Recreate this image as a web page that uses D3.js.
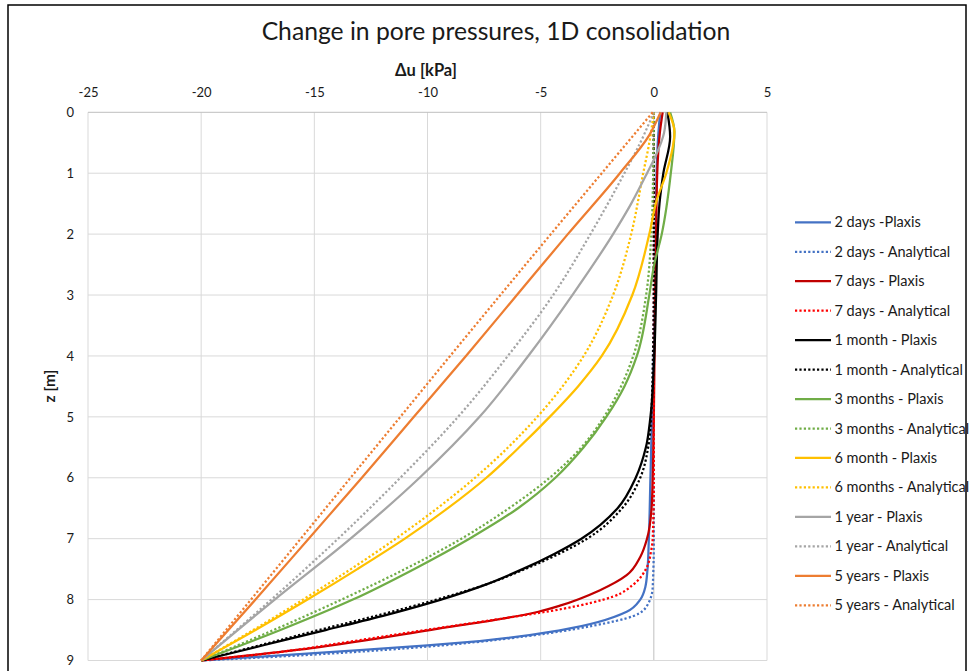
<!DOCTYPE html>
<html>
<head>
<meta charset="utf-8">
<script src="https://cdn.jsdelivr.net/npm/d3@7"></script>
<style>
  body { margin: 0; background: #fff; }
  svg { display: block; }
  text { font-family: Lato, "Open Sans", sans-serif; fill: #1a1a1a; }
</style>
</head>
<body>
<svg id="chart" width="971" height="671"></svg>
<script>
// Axis ticks
const xTicks = [-25, -20, -15, -10, -5, 0, 5];
const zTicks = [0, 1, 2, 3, 4, 5, 6, 7, 8, 9];

// Each series: [z (m), Δu (kPa)]
const days2Plaxis = [[0,0.28],[0.35,0.2],[1,0.12],[2,0.08],[3,0.06],[4,0.0],[5,-0.08],[6,-0.15],[7,-0.22],[7.5,-0.28],[7.8,-0.38],[8.0,-0.6],[8.2,-1.2],[8.5,-4.1],[8.68,-7.7],[8.75,-10.0],[8.83,-13.0],[8.88,-15.0],[9,-20]];
const days2Analytical = [[0,0],[7,0],[7.8,-0.05],[8.1,-0.3],[8.27,-0.9],[8.43,-2.7],[8.55,-4.6],[8.65,-6.7],[8.75,-9.3],[8.85,-12.8],[8.93,-16.3],[9,-20]];
const days7Plaxis = [[0,0.39],[0.32,0.27],[1,0.15],[2,0.1],[3,0.06],[4,0.03],[5,0.0],[6,-0.05],[6.5,-0.1],[7,-0.3],[7.3,-0.6],[7.6,-1.2],[7.85,-2.4],[8.1,-4.15],[8.2,-5.1],[8.5,-9.9],[8.8,-15.2],[9,-20]];
const days7Analytical = [[0,0],[6,0],[7,-0.05],[7.2,-0.12],[7.5,-0.35],[7.75,-0.9],[7.95,-1.8],[8.15,-4.0],[8.3,-6.5],[8.5,-10.1],[8.7,-13.6],[8.85,-16.3],[9,-20]];
const month1Plaxis = [[0,0.6],[0.4,0.72],[1,0.42],[1.5,0.25],[2,0.17],[3,0.1],[4,0.02],[5,-0.15],[5.5,-0.35],[6,-0.8],[6.5,-1.6],[7,-3.2],[7.25,-4.4],[7.5,-5.8],[7.75,-7.4],[8,-9.4],[8.25,-11.8],[8.5,-14.5],[8.75,-17.25],[9,-20]];
const month1Analytical = [[0,0],[3,0],[4,-0.04],[5,-0.12],[5.5,-0.25],[6,-0.6],[6.5,-1.4],[7,-2.95],[7.25,-4.2],[7.5,-5.7],[7.75,-7.4],[8,-9.6],[8.25,-12.1],[8.5,-14.8],[8.75,-17.4],[9,-20]];
const months3Plaxis = [[0,0.72],[0.32,0.91],[1,0.75],[2,0.35],[2.53,0.0],[3,-0.2],[4,-0.75],[4.5,-1.3],[5,-2.1],[5.5,-3.1],[6,-4.35],[6.5,-6.0],[7,-8.15],[7.5,-10.6],[8,-13.3],[8.5,-16.5],[9,-20]];
const months3Analytical = [[0,0],[1,-0.03],[2,-0.11],[3,-0.34],[4,-0.91],[4.5,-1.45],[5,-2.2],[5.5,-3.2],[6,-4.6],[6.5,-6.4],[7,-8.5],[7.5,-11.0],[8,-13.8],[8.5,-16.8],[9,-20]];
const months6Plaxis = [[0,0.65],[0.32,0.91],[1,0.55],[1.44,0.13],[2,-0.2],[3,-0.95],[4,-2.3],[4.5,-3.35],[5,-4.6],[5.5,-5.95],[6,-7.4],[6.5,-9.1],[7,-11.0],[7.5,-13.1],[8,-15.3],[8.5,-17.6],[9,-20]];
const months6Analytical = [[0,0],[0.5,-0.2],[1,-0.47],[2,-1.0],[3,-1.8],[4,-3.1],[5,-5.15],[6,-7.9],[7,-11.4],[8,-15.5],[8.5,-17.7],[9,-20]];
const year1Plaxis = [[0,0.55],[0.34,0.45],[0.7,0.1],[1,-0.3],[1.5,-1.0],[2,-1.8],[3,-3.6],[4,-5.55],[5,-7.7],[6,-10.35],[7,-13.4],[8,-16.75],[9,-20]];
const year1Analytical = [[0,0],[0.5,-0.6],[1,-1.3],[2,-2.8],[3,-4.45],[4,-6.45],[5,-8.65],[6,-11.2],[7,-13.95],[8,-16.9],[9,-20]];
const years5Plaxis = [[0,0.3],[0.375,-0.2],[1,-1.5],[2,-3.8],[3,-6.05],[4,-8.3],[5,-10.6],[6,-12.9],[7,-15.25],[8,-17.6],[9,-20]];
const years5Analytical = [[0,-0.05],[1,-2.3],[2,-4.55],[3,-6.78],[4,-9.0],[5,-11.2],[6,-13.4],[7,-15.6],[8,-17.8],[9,-20]];

const seriesNames = [
  "2 days -Plaxis", "2 days - Analytical",
  "7 days - Plaxis", "7 days - Analytical",
  "1 month - Plaxis", "1 month - Analytical",
  "3 months - Plaxis", "3 months - Analytical",
  "6 month - Plaxis", "6 months - Analytical",
  "1 year - Plaxis", "1 year - Analytical",
  "5 years - Plaxis", "5 years - Analytical"
];
const seriesData = [
  days2Plaxis, days2Analytical, days7Plaxis, days7Analytical,
  month1Plaxis, month1Analytical, months3Plaxis, months3Analytical,
  months6Plaxis, months6Analytical, year1Plaxis, year1Analytical,
  years5Plaxis, years5Analytical
];
const seriesColors = [
  "#4472C4", "#4472C4", "#C00000", "#FF0000",
  "#000000", "#000000", "#70AD47", "#70AD47",
  "#FFC000", "#FFC000", "#A5A5A5", "#A5A5A5",
  "#ED7D31", "#ED7D31"
];

const svg = d3.select("#chart");

// Outer frame
svg.append("rect")
  .attr("x", 8).attr("y", 5).attr("width", 958).attr("height", 720)
  .attr("fill", "none").attr("stroke", "#000").attr("stroke-width", 1.5);

const plot = { left: 88, right: 767, top: 112.3, bottom: 660.5 };
const x = d3.scaleLinear().domain([-25, 5]).range([plot.left, plot.right]);
const y = d3.scaleLinear().domain([0, 9]).range([plot.top, plot.bottom]);

// Gridlines
const grid = svg.append("g");
grid.selectAll("line.v").data(xTicks).join("line")
  .attr("x1", d => x(d)).attr("x2", d => x(d))
  .attr("y1", plot.top).attr("y2", plot.bottom)
  .attr("stroke", d => d === 0 ? "#BFBFBF" : "#D9D9D9").attr("stroke-width", 1);
grid.selectAll("line.h").data(zTicks).join("line")
  .attr("x1", plot.left).attr("x2", plot.right)
  .attr("y1", d => y(d)).attr("y2", d => y(d))
  .attr("stroke", d => d === 0 ? "#BFBFBF" : "#D9D9D9").attr("stroke-width", 1);

// Axes (labels only)
const xAxis = svg.append("g")
  .attr("transform", `translate(0,${plot.top})`)
  .call(d3.axisTop(x).tickValues(xTicks).tickFormat(d => String(d)).tickSize(0).tickPadding(15));
const yAxis = svg.append("g")
  .attr("transform", `translate(${plot.left},0)`)
  .call(d3.axisLeft(y).tickValues(zTicks).tickFormat(d => String(d)).tickSize(0).tickPadding(14));
[xAxis, yAxis].forEach(a => {
  a.select(".domain").remove();
  a.selectAll("text").attr("font-family", "Lato, sans-serif").attr("font-size", 13).attr("fill", "#1a1a1a");
});

// Titles
svg.append("text").attr("x", 496).attr("y", 40).attr("text-anchor", "middle")
  .attr("font-size", 24.7).text("Change in pore pressures, 1D consolidation");
svg.append("text").attr("x", 426).attr("y", 76).attr("text-anchor", "middle")
  .attr("font-size", 16.5).attr("font-weight", "bold").text("Δu [kPa]");
svg.append("text").attr("transform", "translate(55,386) rotate(-90)").attr("text-anchor", "middle")
  .attr("font-size", 15.5).attr("font-weight", "bold").text("z [m]");

// Curves
const line = d3.line()
  .x(d => x(d[1]))
  .y(d => y(d[0]))
  .curve(d3.curveMonotoneY);

svg.append("defs").append("clipPath").attr("id", "clip")
  .append("rect").attr("x", plot.left - 2).attr("y", plot.top - 2)
  .attr("width", plot.right - plot.left + 4).attr("height", plot.bottom - plot.top + 4);

const curves = svg.append("g").attr("clip-path", "url(#clip)");
seriesData.forEach((data, i) => {
  const dotted = i % 2 === 1;
  curves.append("path")
    .attr("d", line(data))
    .attr("fill", "none")
    .attr("stroke", seriesColors[i])
    .attr("stroke-width", 2.25)
    .attr("stroke-linejoin", "round")
    .attr("stroke-dasharray", dotted ? "2.2,2.2" : null);
});

// Legend
const legendY = d3.scaleLinear().domain([0, 13]).range([222.3, 605.3]);
const legend = svg.append("g");
seriesNames.forEach((name, i) => {
  const ly = legendY(i);
  legend.append("line")
    .attr("x1", 795).attr("x2", 831).attr("y1", ly).attr("y2", ly)
    .attr("stroke", seriesColors[i]).attr("stroke-width", 2.25)
    .attr("stroke-dasharray", i % 2 === 1 ? "2.2,2.2" : null);
  legend.append("text")
    .attr("x", 834.5).attr("y", ly + 5)
    .attr("font-size", 14.5).text(name);
});
</script>
</body>
</html>
